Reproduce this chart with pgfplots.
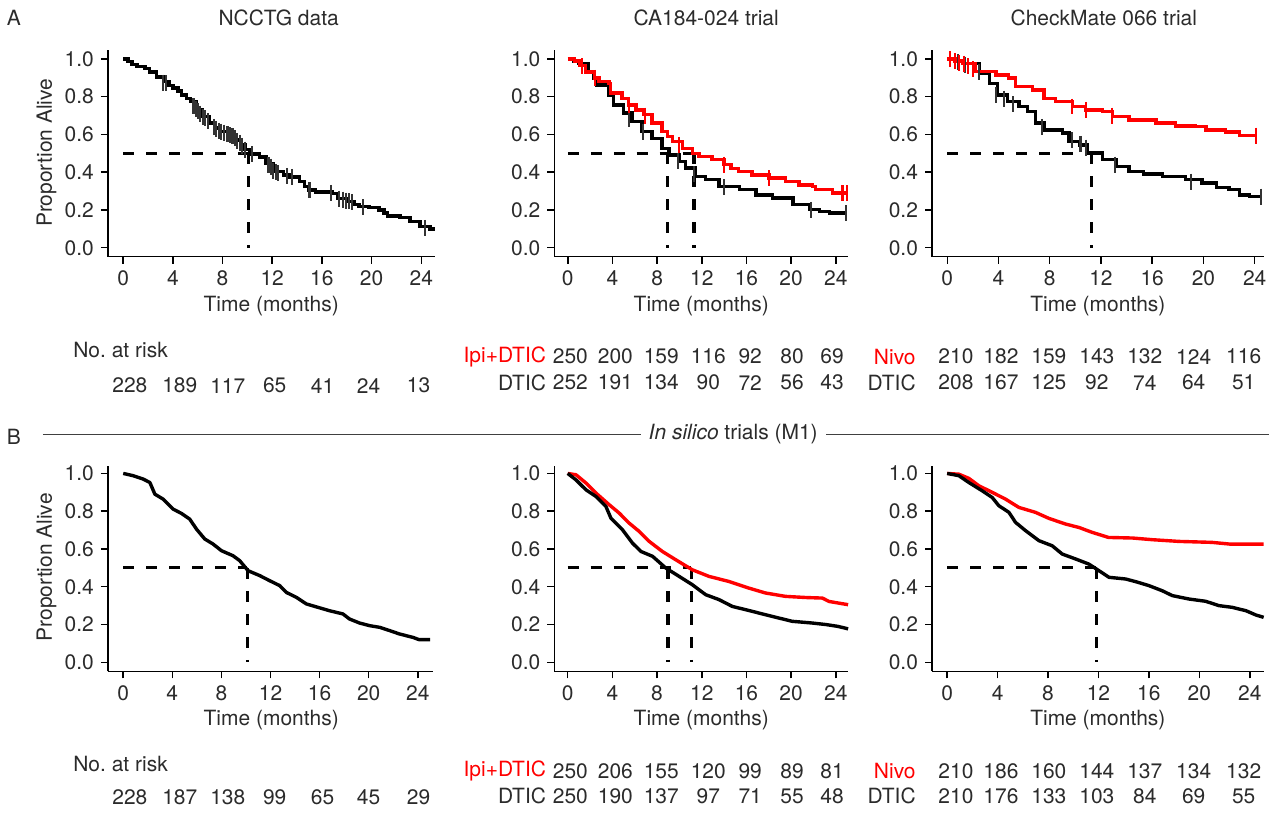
\documentclass[border=0pt]{standalone}
\usepackage{fontspec}
\setmainfont{TeX Gyre Heros}
\usepackage{pgfplots}
\pgfplotsset{compat=1.18}
\definecolor{txt}{HTML}{2B2B2B}
\definecolor{kmred}{HTML}{FF0000}

\pgfplotsset{
  km/.style={
    scale only axis, anchor=south west,
    axis lines=left, axis line style={-, line width=0.75pt, black},
    xtick={0,4,8,12,16,20,24}, ytick={0,0.2,0.4,0.6,0.8,1},
    yticklabel style={/pgf/number format/.cd, fixed, fixed zerofill, precision=1},
    tick align=outside, major tick length=3.5pt,
    tick style={black, line width=0.75pt},
    ticklabel style={font=\fontsize{10.5}{12}\selectfont, text=txt},
    /pgf/number format/assume math mode=true,
    clip=false,
  },
  kmA/.style={km, height=103.5pt, ymin=-0.0476, ymax=1.0476},
  kmB/.style={km, height=103pt, ymin=-0.0476, ymax=1.042},
  curve/.style={const plot, line width=1.7pt},
  smooth curve/.style={line width=1.7pt, line join=round},
  cens/.style={only marks, mark=|, mark size=4pt, mark options={line width=1.05pt}},
  med/.style={line width=1.6pt, dash pattern=on 5.5pt off 6pt},
}

\begin{document}
\begin{tikzpicture}
\path (0,0) rectangle (636.5pt,407pt);

% ---------------- row A ----------------
\begin{axis}[kmA, at={(54pt,278.5pt)}, width=163.5pt, xmin=-1.23, xmax=25.07]
\addplot[med] coordinates {(0,0.5)(10.1,0.5)};
\addplot[med] coordinates {(10.1,0.5)(10.1,0)};
\addplot[curve, black] coordinates {
(0,1.0)(0.4,0.985)(0.7,0.97)(1.1,0.96)(1.75,0.95)(2.1,0.93)(2.7,0.905)(3.35,0.88)
(3.7,0.86)(4.0,0.845)(4.4,0.83)(4.7,0.81)(5.1,0.79)(5.4,0.775)(5.9,0.73)(6.4,0.695)
(6.95,0.66)(7.4,0.635)(7.8,0.615)(8.6,0.595)(9.1,0.57)(9.5,0.545)(9.8,0.52)(10.2,0.497)
(11.0,0.48)(11.5,0.445)(12.1,0.405)(12.9,0.385)(13.4,0.375)(14.2,0.35)(14.6,0.325)
(14.9,0.305)(15.5,0.295)(16.8,0.287)(17.3,0.262)(18.1,0.245)(18.6,0.23)(19.0,0.217)
(19.8,0.213)(20.6,0.2)(21.0,0.185)(21.3,0.168)(22.3,0.16)(23.1,0.138)(23.9,0.111)
(24.7,0.1)(25.0,0.09)};
\addplot[cens, black!80] coordinates {
(3.24,0.875)(3.42,0.87)(5.66,0.75)(5.85,0.735)(6.0,0.725)(6.2,0.71)(6.4,0.695)(6.6,0.685)
(6.8,0.67)(7.3,0.64)(7.5,0.63)(7.7,0.62)(7.9,0.615)(8.1,0.61)(8.4,0.6)(8.6,0.595)(8.8,0.59)
(9.0,0.58)(9.2,0.565)(9.4,0.555)(9.6,0.54)(9.8,0.52)(10.4,0.495)(11.7,0.44)(11.9,0.43)
(12.1,0.405)(12.3,0.4)(12.5,0.395)(13.2,0.38)(13.6,0.375)(15.0,0.305)(16.7,0.29)
(17.4,0.26)(17.7,0.255)(17.95,0.25)(18.2,0.245)(18.4,0.24)(19.3,0.215)(24.3,0.105)};
\end{axis}

\begin{axis}[kmA, at={(277.5pt,278.5pt)}, width=147pt, xmin=-1.2, xmax=25.1]
\addplot[med] coordinates {(0,0.5)(11.3,0.5)};
\addplot[med] coordinates {(8.96,0.5)(8.96,0)};
\addplot[med] coordinates {(11.3,0.5)(11.3,0)};
\addplot[curve, black] coordinates {
(0,1.0)(0.5,0.99)(0.95,0.977)(1.85,0.933)(2.3,0.898)(2.6,0.862)(3.6,0.862)(3.65,0.81)
(4.1,0.757)(5.0,0.713)(5.75,0.668)(6.65,0.616)(7.55,0.58)(8.45,0.527)(9.05,0.492)
(9.95,0.457)(10.55,0.422)(11.45,0.377)(12.35,0.36)(13.55,0.324)(15.35,0.307)(16.85,0.28)
(18.35,0.263)(20.15,0.228)(21.65,0.201)(22.55,0.192)(23.45,0.183)(24.95,0.183)};
\addplot[cens, black!80] coordinates {
(5.45,0.68)(6.7,0.615)(9.9,0.46)(11.3,0.39)(14.0,0.32)(21.8,0.2)(24.9,0.183)};
\addplot[curve, kmred] coordinates {
(0,1.0)(0.6,0.99)(1.05,0.965)(1.6,0.93)(2.4,0.9)(2.8,0.88)(3.7,0.87)(3.8,0.82)(4.85,0.79)
(5.45,0.757)(6.1,0.73)(6.8,0.705)(7.55,0.66)(8.45,0.615)(8.9,0.59)(9.35,0.563)(10.25,0.527)
(11.15,0.5)(11.75,0.483)(12.9,0.466)(14.0,0.44)(14.6,0.42)(15.3,0.404)(16.5,0.386)
(18.0,0.369)(19.5,0.351)(20.7,0.333)(21.9,0.324)(22.2,0.307)(23.7,0.289)(25.0,0.289)};
\addplot[cens, kmred] coordinates {
(1.26,0.96)(2.46,0.9)(5.45,0.757)(6.9,0.70)(9.94,0.545)(14.0,0.44)(18.0,0.369)
(24.6,0.289)(25.0,0.289)};
\end{axis}

\begin{axis}[kmA, at={(466.5pt,278.5pt)}, width=166pt, xmin=-1.19, xmax=24.7]
\addplot[med] coordinates {(0,0.5)(11.25,0.5)};
\addplot[med] coordinates {(11.25,0.5)(11.25,0)};
\addplot[curve, black] coordinates {
(0,1.0)(0.6,0.99)(1.2,0.977)(2.5,0.924)(3.3,0.871)(3.9,0.81)(4.7,0.774)(5.6,0.748)
(6.25,0.721)(6.9,0.66)(7.56,0.624)(9.0,0.607)(9.5,0.563)(10.3,0.545)(10.95,0.501)
(12.1,0.466)(13.2,0.43)(14.2,0.404)(15.3,0.39)(16.8,0.377)(18.6,0.36)(19.9,0.342)
(21.0,0.319)(22.0,0.307)(22.8,0.28)(23.6,0.271)(24.55,0.271)};
\addplot[cens, black!80] coordinates {
(0.85,0.985)(1.4,0.97)(2.45,0.93)(3.8,0.81)(4.4,0.79)(5.1,0.76)(7.4,0.64)(9.77,0.57)
(10.4,0.55)(10.8,0.53)(13.1,0.44)(19.0,0.35)(24.5,0.271)};
\addplot[curve, kmred] coordinates {
(0,1.0)(0.6,0.99)(1.2,0.977)(2.2,0.933)(3.8,0.915)(4.8,0.898)(5.35,0.853)(6.65,0.836)
(7.56,0.792)(8.47,0.774)(9.77,0.748)(10.8,0.73)(12.1,0.721)(12.9,0.695)(14.2,0.677)
(16.3,0.66)(17.8,0.645)(19.4,0.642)(20.2,0.624)(21.7,0.612)(22.8,0.594)(24.1,0.594)};
\addplot[cens, kmred] coordinates {
(0.2,1.0)(0.6,0.99)(0.95,0.98)(1.3,0.975)(1.6,0.96)(2.0,0.945)(9.77,0.748)(10.8,0.73)
(12.85,0.70)(24.1,0.594)};
\end{axis}

% ---------------- row B ----------------
\begin{axis}[kmB, at={(54pt,71pt)}, width=162.5pt, xmin=-1.25, xmax=25.2]
\addplot[med] coordinates {(0,0.5)(10.1,0.5)};
\addplot[med] coordinates {(10.1,0.5)(10.1,0)};
\addplot[smooth curve, black] coordinates {
(0,1.0)(0.81,0.988)(1.63,0.97)(2.17,0.952)(2.58,0.89)(3.25,0.864)(4.07,0.811)(4.75,0.788)
(5.42,0.758)(5.97,0.705)(6.64,0.653)(7.32,0.626)(8.0,0.591)(8.95,0.564)(9.49,0.538)
(10.17,0.485)(11.12,0.459)(11.93,0.432)(12.75,0.406)(13.29,0.37)(14.1,0.344)(14.92,0.309)
(15.86,0.291)(16.81,0.273)(17.9,0.256)(18.44,0.229)(19.25,0.208)(20.07,0.194)(20.9,0.185)
(21.7,0.168)(22.5,0.15)(23.6,0.132)(24.1,0.12)(25.0,0.12)};
\end{axis}

\begin{axis}[kmB, at={(277.5pt,71pt)}, width=147pt, xmin=-1.19, xmax=25.1]
\addplot[med] coordinates {(0,0.5)(11.06,0.5)};
\addplot[med] coordinates {(8.98,0.5)(8.98,0)};
\addplot[med] coordinates {(11.06,0.5)(11.06,0)};
\addplot[smooth curve, kmred] coordinates {
(0,1.0)(0.74,0.993)(1.64,0.949)(2.53,0.896)(3.72,0.834)(4.61,0.79)(5.5,0.737)(6.4,0.693)
(7.3,0.64)(8.47,0.587)(9.67,0.543)(11.15,0.49)(12.64,0.455)(14.43,0.428)(16.21,0.393)
(17.7,0.367)(19.5,0.349)(21.3,0.343)(22.8,0.34)(23.4,0.322)(25.1,0.305)};
\addplot[smooth curve, black] coordinates {
(0,1.0)(0.74,0.966)(1.64,0.913)(2.53,0.878)(3.42,0.825)(3.87,0.763)(4.9,0.702)(5.8,0.631)
(6.55,0.587)(7.6,0.561)(8.78,0.499)(9.97,0.455)(11.15,0.411)(12.35,0.358)(13.54,0.332)
(14.73,0.296)(16.5,0.27)(18.3,0.243)(20.1,0.217)(21.88,0.208)(23.1,0.2)(24.2,0.19)
(25.1,0.177)};
\end{axis}

\begin{axis}[kmB, at={(466.5pt,71pt)}, width=166pt, xmin=-1.2, xmax=25.1]
\addplot[med] coordinates {(0,0.5)(11.83,0.5)};
\addplot[med] coordinates {(11.83,0.5)(11.83,0)};
\addplot[smooth curve, kmred] coordinates {
(0,1.0)(0.93,0.996)(1.72,0.974)(2.51,0.935)(3.57,0.9)(4.63,0.864)(5.69,0.82)(7.0,0.794)
(8.07,0.762)(9.39,0.732)(10.45,0.714)(11.5,0.688)(12.8,0.661)(14.7,0.658)(16.3,0.649)
(18.4,0.64)(21.0,0.635)(22.4,0.626)(25.1,0.626)};
\addplot[smooth curve, black] coordinates {
(0,1.0)(0.93,0.988)(1.72,0.952)(2.78,0.908)(3.57,0.873)(4.1,0.829)(4.9,0.794)(5.42,0.741)
(6.22,0.697)(7.28,0.644)(8.33,0.617)(9.13,0.573)(10.19,0.547)(11.24,0.52)(12.04,0.485)
(12.83,0.45)(14.16,0.441)(14.95,0.427)(16.0,0.406)(17.05,0.379)(17.86,0.353)(19.18,0.335)
(20.5,0.323)(21.56,0.3)(22.6,0.291)(23.7,0.273)(24.5,0.25)(25.1,0.238)};
\end{axis}

% ---------------- text (pixel grid of the reference) ----------------
\begin{scope}[x=0.5pt, y=-0.5pt, shift={(0pt,407pt)},
  every node/.style={font=\fontsize{10.5}{12}\selectfont, text=txt, inner sep=0pt}]
\node at (14,18) {A};
\node at (279,18) {NCCTG data};
\node at (707,18) {CA184-024 trial};
\node at (1105,18) {CheckMate 066 trial};
\node at (14,437) {B};
\draw[line width=0.5pt, black!75] (43,435) -- (1270,435);
\node[fill=white, inner xsep=4pt, inner ysep=2pt] at (734,435) {\textit{In silico} trials (M1)};

\node[rotate=90] at (46.5,153) {Proportion Alive};
\node[rotate=90] at (46.5,568) {Proportion Alive};
\foreach \cx in {271.5,702,1099} {
  \node at (\cx,306) {Time (months)};
  \node at (\cx,721) {Time (months)};
}

% risk tables, row A
\node[anchor=west] at (73,350) {No.\ at risk};
\foreach \v/\cx in {228/130,189/180,117/228,65/275,41/323,24/369,13/419}
  \node at (\cx,386) {\v};
\node[anchor=east, text=kmred] at (547,357) {Ipi+DTIC};
\node[anchor=east] at (547,383) {DTIC};
\foreach \v/\cx in {250/571,200/616,159/662,116/709,92/751,80/793,69/833}
  \node at (\cx,357) {\v};
\foreach \v/\cx in {252/571,191/616,134/662,90/709,72/751,56/793,43/833}
  \node at (\cx,383) {\v};
\node[anchor=east, text=kmred] at (917,357) {Nivo};
\node[anchor=east] at (917,383) {DTIC};
\foreach \v/\cx in {210/957,182/1002,159/1050,143/1098,132/1146,124/1195,116/1245}
  \node at (\cx,357) {\v};
\foreach \v/\cx in {208/957,167/1002,125/1050,92/1098,74/1146,64/1195,51/1245}
  \node at (\cx,383) {\v};

% risk tables, row B
\node[anchor=west] at (73,765) {No.\ at risk};
\foreach \v/\cx in {228/130,187/180,138/228,99/275,65/323,45/369,29/419}
  \node at (\cx,798) {\v};
\node[anchor=east, text=kmred] at (547,772) {Ipi+DTIC};
\node[anchor=east] at (547,797) {DTIC};
\foreach \v/\cx in {250/571,206/616,155/662,120/709,99/751,89/793,81/833}
  \node at (\cx,772) {\v};
\foreach \v/\cx in {250/571,190/616,137/662,97/709,71/751,55/793,48/833}
  \node at (\cx,797) {\v};
\node[anchor=east, text=kmred] at (917,772) {Nivo};
\node[anchor=east] at (917,797) {DTIC};
\foreach \v/\cx in {210/957,186/1002,160/1050,144/1098,137/1146,134/1195,132/1245}
  \node at (\cx,772) {\v};
\foreach \v/\cx in {210/957,176/1002,133/1050,103/1098,84/1146,69/1195,55/1245}
  \node at (\cx,797) {\v};
\end{scope}
\end{tikzpicture}
\end{document}
